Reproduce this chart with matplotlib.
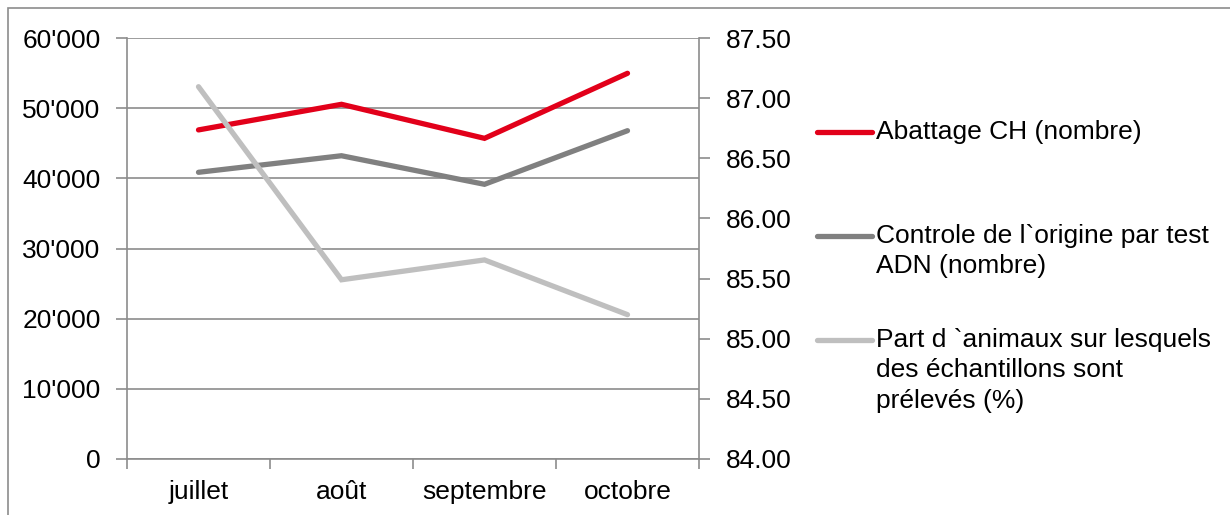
import matplotlib
matplotlib.use("Agg")
import matplotlib.pyplot as plt
from matplotlib.lines import Line2D
from matplotlib.patches import Rectangle
from matplotlib.ticker import FuncFormatter

plt.rcParams['font.family'] = ['Liberation Sans', 'DejaVu Sans']

categories = ["juillet", "août", "septembre", "octobre"]
abattage = [46900, 50550, 45700, 54970]
controle = [40860, 43220, 39150, 46790]
part = [87.095, 85.49, 85.655, 85.20]

series_names = [
    "Abattage CH (nombre)",
    "Controle de l`origine par test\nADN (nombre)",
    "Part d `animaux sur lesquels\ndes échantillons sont\nprélevés (%)",
]
colors = ["#E2001A", "#808080", "#BFBFBF"]

W, H = 1230, 515
fig = plt.figure(figsize=(W / 100, H / 100), dpi=100)

# outer frame
fig.patches.append(Rectangle((8 / W, -0.05), 1.1, 1 - 8 / H + 0.05,
                             transform=fig.transFigure, fill=False,
                             edgecolor="#8C8C8C", lw=1.2))

x0, x1 = 127, 699
y0, y1 = 459, 38
ax = fig.add_axes([x0 / W, 1 - y0 / H, (x1 - x0) / W, (y0 - y1) / H])
ax2 = ax.twinx()

grid_c = "#8C8C8C"
fs = 19
lw = 3.8

x = list(range(len(categories)))
ax.plot(x, abattage, color=colors[0], lw=lw, solid_capstyle="round", solid_joinstyle="miter", zorder=3)
ax.plot(x, controle, color=colors[1], lw=lw, solid_capstyle="round", solid_joinstyle="miter", zorder=3)
ax2.plot(x, part, color=colors[2], lw=lw, solid_capstyle="round", solid_joinstyle="miter", zorder=3)

ax.set_xlim(-0.5, len(categories) - 0.5)
ax.set_ylim(0, 60000)
ax.set_yticks(range(0, 60001, 10000))
ax.yaxis.set_major_formatter(FuncFormatter(lambda v, p: f"{int(v):,}".replace(",", "'")))
ax.grid(axis="y", color=grid_c, lw=1.2)
ax.set_axisbelow(True)

ax2.set_ylim(84.0, 87.5)
ax2.set_yticks([84.0 + 0.5 * i for i in range(8)])
ax2.yaxis.set_major_formatter(FuncFormatter(lambda v, p: f"{v:.2f}"))

ax.set_xticks([i - 0.5 for i in range(len(categories) + 1)], minor=False)
ax.set_xticklabels([])
ax.set_xticks(x, minor=True)
ax.set_xticklabels(categories, minor=True)
ax.tick_params(axis="x", which="minor", length=0, labelsize=fs, pad=15)
ax.tick_params(axis="x", which="major", length=7, width=1.2, color=grid_c)
ax.tick_params(axis="y", length=8, width=1.2, color=grid_c, labelsize=fs, pad=11)
ax2.tick_params(axis="y", length=8, width=1.2, color=grid_c, labelsize=fs, pad=11)

for a in (ax, ax2):
    a.spines["top"].set_visible(False)
    for s in ("left", "right", "bottom"):
        a.spines[s].set_color(grid_c)
        a.spines[s].set_linewidth(1.2)
ax.spines["right"].set_visible(False)
ax2.spines["left"].set_visible(False)
ax2.spines["bottom"].set_visible(False)

# legend (manual, Excel style)
leg_y = [131.7, 236, 340]
for name, c, yy in zip(series_names, colors, leg_y):
    fy = 1 - yy / H
    fig.add_artist(Line2D([817 / W, 872 / W], [fy, fy], transform=fig.transFigure,
                          color=c, lw=lw, solid_capstyle="round"))
    fig.text(876 / W, 1 - (yy - 12) / H, name, fontsize=fs, va="top", ha="left",
             linespacing=1.33)

fig.savefig("out.png", dpi=100)
